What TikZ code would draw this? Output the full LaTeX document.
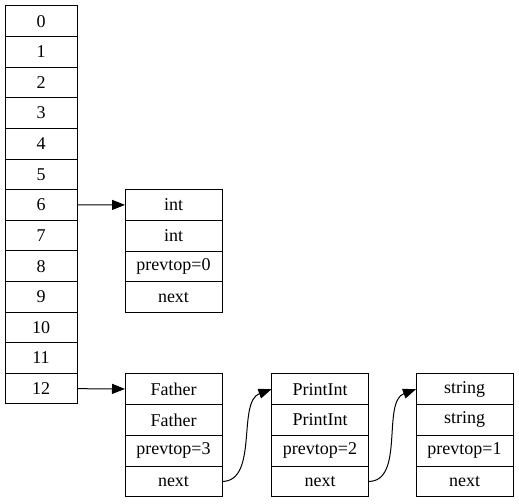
\documentclass[tikz,border=0pt]{standalone}
\usepackage{fontspec}
\setmainfont{Liberation Serif}
\usetikzlibrary{graphs, arrows.meta, positioning}

\begin{document}
\begin{tikzpicture}[
                x=1pt, y=-1pt,
                slot/.style={
                    draw=black,
                    line width=1pt,
                    minimum width=72pt,
                    minimum height=30.6pt,
                    inner sep=0pt,
                    outer sep=0pt,
                    font=\fontsize{18}{20}\selectfont,
                },
                field/.style={
                    slot,
                    minimum width=97pt,
                    minimum height=30.75pt,
                },
                >={Triangle[length=13pt, width=10pt]},
                line width=1pt,
            ]
            \useasboundingbox (0,0) rectangle (519,503);

            % the stack
            \foreach \i in {0,...,12} {
                \node [slot] (s\i) at (41, 6+30.6*\i+15.3) {\i} ;
            }

            % activation records
            \node [field] (int1) at (173.5, 204.9) {int} ;
            \node [field, below=0pt of int1] (int2) {int} ;
            \node [field, below=0pt of int2] (int3) {prevtop=0} ;
            \node [field, below=0pt of int3] (int4) {next} ;

            \node [field] (fa1) at (173.5, 389.2) {Father} ;
            \node [field, below=0pt of fa1] (fa2) {Father} ;
            \node [field, below=0pt of fa2] (fa3) {prevtop=3} ;
            \node [field, below=0pt of fa3] (fa4) {next} ;

            \node [field] (pi1) at (320, 389.2) {PrintInt} ;
            \node [field, below=0pt of pi1] (pi2) {PrintInt} ;
            \node [field, below=0pt of pi2] (pi3) {prevtop=2} ;
            \node [field, below=0pt of pi3] (pi4) {next} ;

            \node [field] (st1) at (464.5, 389.2) {string} ;
            \node [field, below=0pt of st1] (st2) {string} ;
            \node [field, below=0pt of st2] (st3) {prevtop=1} ;
            \node [field, below=0pt of st3] (st4) {next} ;

            \graph [ use existing nodes, ] {
                s6 -> int1 ;
                s12 -> fa1 ;
                fa4.east ->[out=0, in=200, looseness=0.9] pi1.west ;
                pi4.east ->[out=0, in=200, looseness=0.9] st1.west ;
            } ;
        \end{tikzpicture}
\end{document}
